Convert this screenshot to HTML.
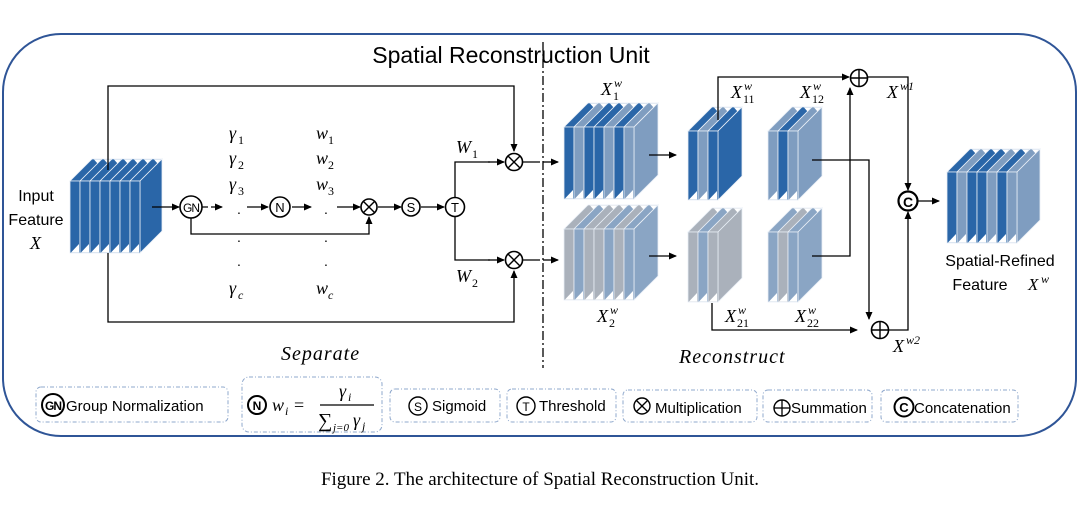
<!DOCTYPE html>
<html><head><meta charset="utf-8"><style>
html,body{margin:0;padding:0;background:#fff;}
svg{display:block;}
.s{font-family:"Liberation Sans","DejaVu Sans",sans-serif;}
.m{font-family:"Liberation Serif","DejaVu Serif",serif;font-style:italic;}
.n{font-family:"Liberation Serif","DejaVu Serif",serif;font-style:normal;}
</style></head><body>
<svg id="s" width="1080" height="516" viewBox="0 0 1080 516" xmlns="http://www.w3.org/2000/svg">
<defs>
<marker id="a" markerWidth="8" markerHeight="8" refX="7" refY="4" orient="auto" markerUnits="userSpaceOnUse"><path d="M0,0.5 L8,4 L0,7.5z" fill="#000"/></marker>
</defs>
<rect x="3" y="34" width="1073" height="402" rx="58" fill="none" stroke="#2f5597" stroke-width="2"/>
<text class="s" x="511" y="63" font-size="23" text-anchor="middle">Spatial Reconstruction Unit</text>
<line x1="543" y1="42" x2="543" y2="368" stroke="#000" stroke-width="1.3" stroke-dasharray="9,3,2,3"/>
<g id="cubes"></g>
<g fill="none" stroke="#000" stroke-width="1.3">
<polyline points="108,170 108,86 514,86 514,151" marker-end="url(#a)"/>
<polyline points="108,253 108,322 514,322 514,271" marker-end="url(#a)"/>
<line x1="152" y1="207" x2="179" y2="207" marker-end="url(#a)"/>
<line x1="202" y1="207" x2="222" y2="207" stroke-dasharray="6,3" marker-end="url(#a)"/>
<line x1="247" y1="207" x2="268" y2="207" marker-end="url(#a)"/>
<line x1="292" y1="207" x2="311" y2="207" marker-end="url(#a)"/>
<line x1="337" y1="207" x2="360" y2="207" marker-end="url(#a)"/>
<line x1="378" y1="207" x2="401" y2="207" marker-end="url(#a)"/>
<line x1="421" y1="207" x2="444" y2="207" marker-end="url(#a)"/>
<polyline points="191,218 191,234 369,234 369,217" marker-end="url(#a)"/>
<polyline points="490,162 455,162 455,260 490,260" />
<line x1="488" y1="162" x2="504" y2="162" marker-end="url(#a)"/>
<line x1="488" y1="260" x2="504" y2="260" marker-end="url(#a)"/>
<line x1="523" y1="162" x2="540" y2="162"/>
<line x1="523" y1="260" x2="540" y2="260"/>
<line x1="543" y1="162" x2="558" y2="162" marker-end="url(#a)"/>
<line x1="543" y1="260" x2="558" y2="260" marker-end="url(#a)"/>
<line x1="649" y1="155" x2="676" y2="155" marker-end="url(#a)"/>
<line x1="649" y1="256" x2="676" y2="256" marker-end="url(#a)"/>
<polyline points="718,120 718,77 849,77" marker-end="url(#a)"/>
<polyline points="812,256 850,256 850,88" marker-end="url(#a)"/>
<polyline points="812,160 869,160 869,319" marker-end="url(#a)"/>
<polyline points="712,303 712,330 857,330" marker-end="url(#a)"/>
<polyline points="868,77 908,77 908,190" marker-end="url(#a)"/>
<polyline points="889,330 908,330 908,212" marker-end="url(#a)"/>
<line x1="918" y1="201" x2="939" y2="201" marker-end="url(#a)"/>
</g>
<g fill="#fff" stroke="#000" stroke-width="1.6">
<circle cx="191" cy="207" r="11"/><circle cx="280" cy="207" r="10"/>
<circle cx="369" cy="207" r="8"/><circle cx="411" cy="207" r="9"/><circle cx="455" cy="207" r="9.5"/>
<circle cx="514" cy="162" r="8.5"/><circle cx="514" cy="260" r="8.5"/>
<circle cx="859" cy="78" r="8.5"/><circle cx="880" cy="330" r="8.5"/>
<circle cx="908" cy="201" r="9.5" stroke-width="2.2"/>
</g>
<g stroke="#000" stroke-width="1.4">
<line x1="363.5" y1="201.5" x2="374.5" y2="212.5"/><line x1="374.5" y1="201.5" x2="363.5" y2="212.5"/>
<line x1="508" y1="156" x2="520" y2="168"/><line x1="520" y1="156" x2="508" y2="168"/>
<line x1="508" y1="254" x2="520" y2="266"/><line x1="520" y1="254" x2="508" y2="266"/>
<line x1="850.5" y1="78" x2="867.5" y2="78"/><line x1="859" y1="69.5" x2="859" y2="86.5"/>
<line x1="871.5" y1="330" x2="888.5" y2="330"/><line x1="880" y1="321.5" x2="880" y2="338.5"/>
</g>
<g class="s" font-size="13" text-anchor="middle">
<text x="191" y="212" font-size="12" letter-spacing="-1">GN</text>
<text x="280" y="212">N</text><text x="411" y="212">S</text><text x="455" y="212">T</text>
<text x="908" y="207" font-weight="bold" font-size="14">C</text>
</g>
<g id="labs"></g>
<g class="s" fill="#000" font-size="16">
<text x="237" y="214" font-size="14">.</text><text x="237" y="242" font-size="14">.</text><text x="237" y="266" font-size="14">.</text>
<text x="324" y="214" font-size="14">.</text><text x="324" y="242" font-size="14">.</text><text x="324" y="266" font-size="14">.</text>
<text x="36" y="201" text-anchor="middle">Input</text>
<text x="36" y="225" text-anchor="middle">Feature</text>
<text x="1000" y="266" text-anchor="middle">Spatial-Refined</text>
<text x="980" y="290" text-anchor="middle">Feature</text>
</g>
<g class="m" font-size="20" letter-spacing="1">
<text x="281" y="360">Separate</text>
<text x="679" y="363">Reconstruct</text>
</g>
<g fill="none" stroke="#8fa8cc" stroke-width="1" stroke-dasharray="4,2,1,2">
<rect x="36" y="387" width="192" height="35" rx="5"/>
<rect x="242" y="377" width="140" height="55" rx="7"/>
<rect x="390" y="389" width="110" height="33" rx="5"/>
<rect x="507" y="389" width="109" height="33" rx="5"/>
<rect x="623" y="390" width="134" height="32" rx="5"/>
<rect x="763" y="390" width="109" height="32" rx="5"/>
<rect x="881" y="390" width="137" height="32" rx="5"/>
</g>
<g fill="#fff" stroke="#000" stroke-width="1.4">
<circle cx="53" cy="405" r="11" stroke-width="2"/><circle cx="257" cy="405" r="9" stroke-width="2"/>
<circle cx="418" cy="406" r="9"/><circle cx="526" cy="406" r="9"/><circle cx="642" cy="406" r="8"/>
<circle cx="782" cy="408" r="8"/><circle cx="904" cy="407" r="9.5" stroke-width="2"/>
</g>
<g stroke="#000" stroke-width="1.3">
<line x1="636.5" y1="400.5" x2="647.5" y2="411.5"/><line x1="647.5" y1="400.5" x2="636.5" y2="411.5"/>
<line x1="774" y1="408" x2="790" y2="408"/><line x1="782" y1="400" x2="782" y2="416"/>
<line x1="320" y1="405" x2="374" y2="405"/>
</g>
<g class="s" font-size="15">
<text x="53" y="410" font-size="12" font-weight="bold" text-anchor="middle" letter-spacing="-1">GN</text>
<text x="66" y="411">Group Normalization</text>
<text x="257" y="410" font-size="12" font-weight="bold" text-anchor="middle">N</text>
<text x="418" y="411" font-size="12" text-anchor="middle">S</text>
<text x="432" y="411">Sigmoid</text>
<text x="526" y="411" font-size="12" text-anchor="middle">T</text>
<text x="539" y="411">Threshold</text>
<text x="655" y="413">Multiplication</text>
<text x="791" y="413">Summation</text>
<text x="904" y="412" font-size="13" font-weight="bold" text-anchor="middle">C</text>
<text x="914" y="413">Concatenation</text>
</g>
<g font-size="18">
<text class="m" x="272" y="411">w</text><text class="m" x="285" y="415" font-size="12">i</text>
<text class="n" x="294" y="411">=</text>
<text class="m" x="339" y="397">γ</text><text class="m" x="348" y="401" font-size="12">i</text>
<text class="n" x="318" y="427" font-size="20">∑</text>
<text class="m" x="333" y="431" font-size="11">j=0</text>
<text class="m" x="353" y="426">γ</text><text class="m" x="362" y="430" font-size="12">j</text>
</g>
<text x="540" y="485" font-size="19" text-anchor="middle" style="font-family:'Liberation Serif',serif">Figure 2. The architecture of Spatial Reconstruction Unit.</text>
</svg>
<script>
var NS='http://www.w3.org/2000/svg';
var g=document.getElementById('cubes');
function poly(p,f,st){var e=document.createElementNS(NS,'polygon');e.setAttribute('points',p.map(function(q){return q[0]+','+q[1]}).join(' '));e.setAttribute('fill',f);if(st){e.setAttribute('stroke',st);e.setAttribute('stroke-width','0.8');}g.appendChild(e);}
var D='#2a66a8',L='#7f9dc0',G='#aab1bb',B='#8aa5c4';
function cube(x,y0,y1,w,d,cols){
 var n=cols.length;
 for(var i=0;i<n;i++){var xi=x+i*w,c=cols[i];
  poly([[xi,y0],[xi+d,y0-d],[xi+w+d,y0-d],[xi+w,y0]],c,'#e8eef6');
  poly([[xi+d+2,y0-d+0.5],[xi+d+w-0.5,y0-d+0.5],[xi+d+w-0.5,y0-d+9]],'#fff');
 }
 var xl=x+n*w;
 poly([[xl,y0],[xl+d,y0-d],[xl+d,y1-d],[xl,y1]],cols[n-1],'#e8eef6');
 for(var i=0;i<n;i++){var xi=x+i*w;
  poly([[xi,y0],[xi+w,y0],[xi+w,y1],[xi,y1]],cols[i],'#e8eef6');
  poly([[xi+1,y1-0.5],[xi+w-1,y1-0.5],[xi+w-1,y1-9]],'#fff');
 }
}
cube(70,181,253,10,22,[D,D,D,D,D,D,D]);
cube(564,127,199,10,24,[D,L,D,D,L,D,L]);
cube(564,229,300,10,24,[G,B,G,G,B,G,B]);
cube(688,131,200,10,24,[D,L,D]);
cube(768,131,200,10,24,[L,D,L]);
cube(688,232,302,10,24,[G,B,G]);
cube(768,232,302,10,24,[B,G,B]);
cube(947,172,243,10,23,[D,L,D,D,L,D,L]);
var lg=document.getElementById('labs');
function t(x,y,s,cls,fs){var e=document.createElementNS(NS,'text');e.setAttribute('x',x);e.setAttribute('y',y);e.setAttribute('class',cls);e.setAttribute('font-size',fs);e.textContent=s;lg.appendChild(e);}
function lab(x,y,b,sub,sup,subm){t(x,y,b,'m',18);var bw=b=='W'?16:(b=='X'?12:(b=='w'?12:9));
 if(sub)t(x+bw,y+5,sub,subm?'m':'n',12);
 if(sup)t(x+bw+1,y-8,sup,'m',12);}
lab(229,139,'γ','1');lab(229,164,'γ','2');lab(229,190,'γ','3');lab(229,294,'γ','c',null,1);
lab(316,139,'w','1');lab(316,164,'w','2');lab(316,190,'w','3');lab(316,294,'w','c',null,1);
lab(456,153,'W','1');lab(456,282,'W','2');
lab(601,95,'X','1','w');lab(597,322,'X','2','w');
lab(731,98,'X','11','w');lab(800,98,'X','12','w');
lab(725,322,'X','21','w');lab(795,322,'X','22','w');
t(887,98,'X','m',18);t(900,90,'w1','m',12);
t(893,352,'X','m',18);t(906,344,'w2','m',12);
t(30,249,'X','m',18);
t(1028,290,'X','m',17);t(1041,283,'w','m',12);
</script>
</body></html>
